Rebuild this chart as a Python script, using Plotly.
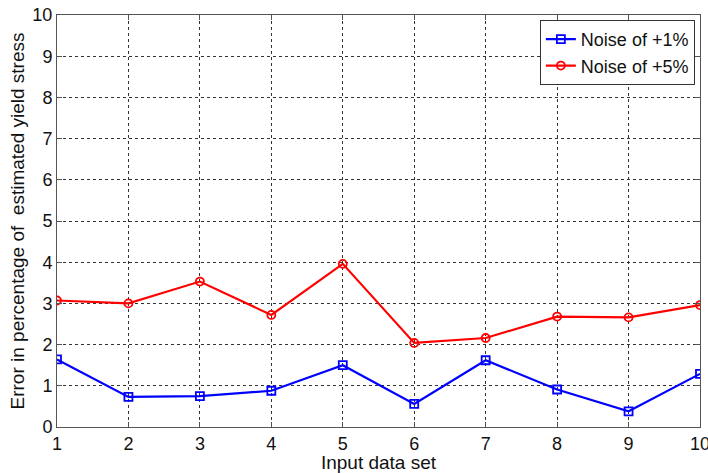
import plotly.graph_objects as go

data_sets = [1, 2, 3, 4, 5, 6, 7, 8, 9, 10]
noise_1 = [1.64, 0.73, 0.75, 0.88, 1.50, 0.56, 1.62, 0.91, 0.38, 1.29]
noise_5 = [3.07, 3.00, 3.53, 2.72, 3.96, 2.04, 2.16, 2.68, 2.66, 2.96]
x_ticks = list(range(1, 11))
y_ticks = list(range(0, 11))

fig = go.Figure()
fig.add_trace(go.Scatter(
    x=data_sets, y=noise_1, mode="lines+markers", name="Noise of +1%",
    line=dict(color="#0000ff", width=2.2),
    marker=dict(symbol="square-open", size=8, color="#0000ff", line=dict(width=1.8)),
))
fig.add_trace(go.Scatter(
    x=data_sets, y=noise_5, mode="lines+markers", name="Noise of +5%",
    line=dict(color="#ff0000", width=2.2),
    marker=dict(symbol="circle-open", size=8, color="#ff0000", line=dict(width=1.8)),
))

axis_common = dict(
    showgrid=True, gridcolor="#333333", griddash="dot", gridwidth=1,
    showline=True, linecolor="#555555", linewidth=1, mirror="ticks",
    ticks="inside", ticklen=5, tickcolor="#555555",
    zeroline=False, ticklabeloverflow="allow", automargin=False,
    tickfont=dict(family="Liberation Sans, Arial", size=18, color="#111111"),
)

fig.update_layout(
    width=708, height=473,
    margin=dict(l=57, r=8, t=15, b=46),
    paper_bgcolor="white", plot_bgcolor="white",
    font=dict(family="Liberation Sans, Arial", size=18, color="#111111"),
    xaxis=dict(range=[1, 10], tickvals=x_ticks,
               title=dict(text="Input data set", font=dict(size=19), standoff=1),
               **axis_common),
    yaxis=dict(range=[0, 10], tickvals=y_ticks,
               title=dict(text="Error in percentage of  estimated yield stress", font=dict(size=19), standoff=2),
               **axis_common),
    legend=dict(x=0.992, y=0.988, xanchor="right", yanchor="top",
                xref="paper", yref="paper",
                bgcolor="white", bordercolor="#333333", borderwidth=1,
                font=dict(size=18), tracegroupgap=0, itemwidth=30),
    showlegend=True,
)

fig.write_html("out.html")
